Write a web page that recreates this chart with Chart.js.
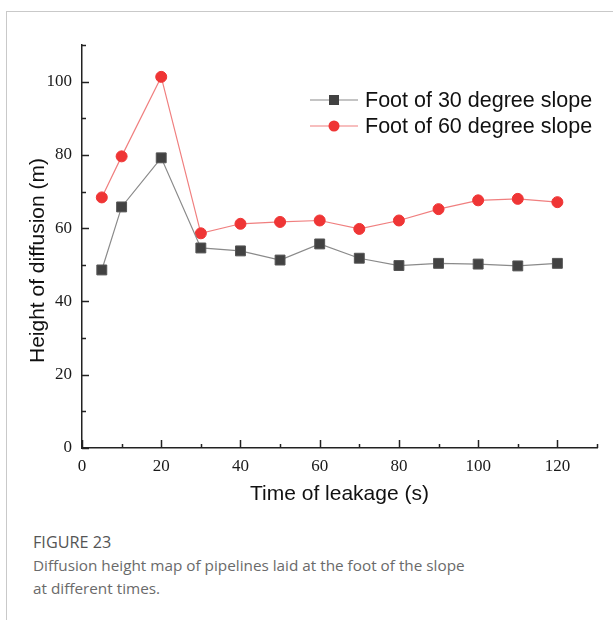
<!DOCTYPE html>
<html>
<head>
<meta charset="utf-8">
<script src="https://cdn.jsdelivr.net/npm/chart.js@4/dist/chart.umd.min.js"></script>
<style>
  html, body { margin: 0; padding: 0; background: #fff; }
  body { width: 613px; height: 620px; position: relative; overflow: hidden; }
  #frame { position: absolute; left: 6px; top: 11px; width: 620px; height: 620px;
           border-top: 1px solid #c9c9c9; border-left: 1px solid #c9c9c9; }
  #chart { position: absolute; left: 0; top: 0; }
  #caption { position: absolute; left: 33px; top: 531px; font-family: "Open Sans", sans-serif;
             font-size: 15.3px; line-height: 23px; color: #6a6a6a; }
  #caption .fig { color: #555; font-size: 16.2px; }
</style>
</head>
<body>
<div id="frame"></div>
<canvas id="chart" width="613" height="515"></canvas>
<div id="caption"><div class="fig">FIGURE 23</div>Diffusion height map of pipelines laid at the foot of the slope<br>at different times.</div>
<script>
const times   = [5, 10, 20, 30, 40, 50, 60, 70, 80, 90, 100, 110, 120];
const slope30 = [48.6, 65.8, 79.2, 54.6, 53.8, 51.3, 55.7, 51.8, 49.8, 50.4, 50.2, 49.7, 50.4];
const slope60 = [68.4, 79.6, 101.3, 58.6, 61.2, 61.7, 62.1, 59.8, 62.1, 65.2, 67.6, 68.0, 67.1];
const seriesLabels = ['Foot of 30 degree slope', 'Foot of 60 degree slope'];
const xMajorTicks = [0, 20, 40, 60, 80, 100, 120];
const xMinorTicks = [10, 30, 50, 70, 90, 110, 130];
const yMajorTicks = [0, 20, 40, 60, 80, 100];
const yMinorTicks = [10, 30, 50, 70, 90, 110];
const xTitle = 'Time of leakage (s)';
const yTitle = 'Height of diffusion (m)';

const pts = (xs, ys) => xs.map((x, i) => ({ x: x, y: ys[i] }));

const AXIS_COLOR = '#222';

const decorPlugin = {
  id: 'decor',
  afterDraw(chart) {
    const ctx = chart.ctx;
    const xs = chart.scales.x, ys = chart.scales.y;
    const ca = chart.chartArea;
    ctx.save();
    ctx.strokeStyle = AXIS_COLOR;
    ctx.lineWidth = 1.5;
    const drawX = (vals, len) => vals.forEach(v => {
      const px = Math.round(xs.getPixelForValue(v)) + 0.5;
      ctx.beginPath(); ctx.moveTo(px, ca.bottom); ctx.lineTo(px, ca.bottom - len); ctx.stroke();
    });
    const drawY = (vals, len) => vals.forEach(v => {
      const py = Math.round(ys.getPixelForValue(v)) + 0.5;
      ctx.beginPath(); ctx.moveTo(ca.left, py); ctx.lineTo(ca.left + len, py); ctx.stroke();
    });
    drawX(xMajorTicks, 8); drawX(xMinorTicks, 4);
    drawY(yMajorTicks, 7); drawY(yMinorTicks, 4);

    ctx.fillStyle = '#111';
    ctx.font = '21px "Liberation Sans", Arial, sans-serif';
    ctx.textAlign = 'center';
    ctx.textBaseline = 'middle';
    ctx.translate(38, ca.top + (ca.bottom - ca.top) / 2 + 14);
    ctx.rotate(-Math.PI / 2);
    ctx.fillText(yTitle, 0, 0);
    ctx.restore();

    ctx.save();
    const lx0 = 310, lx1 = 358, tx = 365, rows = [100, 126];
    chart.data.datasets.forEach((ds, i) => {
      const y = rows[i];
      ctx.strokeStyle = ds.borderColor; ctx.lineWidth = ds.borderWidth;
      ctx.beginPath(); ctx.moveTo(lx0, y); ctx.lineTo(lx1, y); ctx.stroke();
      ctx.fillStyle = ds.pointBackgroundColor;
      const mx = (lx0 + lx1) / 2;
      if (ds.pointStyle === 'rect') {
        ctx.fillRect(mx - 5, y - 5, 10, 10);
      } else {
        ctx.beginPath(); ctx.arc(mx, y, 5.5, 0, Math.PI * 2); ctx.fill();
      }
      ctx.fillStyle = '#111';
      ctx.font = '21.5px "Liberation Sans", Arial, sans-serif';
      ctx.textAlign = 'left'; ctx.textBaseline = 'middle';
      ctx.fillText(ds.label, tx, y + 1);
    });
    ctx.restore();
  }
};

new Chart(document.getElementById('chart'), {
  type: 'line',
  data: {
    datasets: [
      {
        label: seriesLabels[0],
        data: pts(times, slope30),
        borderColor: '#8a8a8a',
        borderWidth: 1.2,
        pointStyle: 'rect',
        pointRadius: 7,
        pointBackgroundColor: '#424242',
        pointBorderColor: '#555',
        pointBorderWidth: 1,
        tension: 0
      },
      {
        label: seriesLabels[1],
        data: pts(times, slope60),
        borderColor: '#f07f7f',
        borderWidth: 1.2,
        pointStyle: 'circle',
        pointRadius: 5.5,
        pointBackgroundColor: '#ef3535',
        pointBorderColor: '#ef3535',
        pointBorderWidth: 1,
        tension: 0
      }
    ]
  },
  options: {
    responsive: false,
    animation: false,
    events: [],
    layout: { padding: { left: 0, top: 45, right: 16, bottom: 0 } },
    plugins: { legend: { display: false }, tooltip: { enabled: false } },
    scales: {
      x: {
        type: 'linear',
        min: 0, max: 130,
        afterBuildTicks: s => { s.ticks = xMajorTicks.map(v => ({ value: v })); },
        afterFit: s => { s.height = 67; },
        grid: { display: true, drawOnChartArea: false, drawTicks: false },
        border: { display: true, color: AXIS_COLOR, width: 1.5 },
        ticks: { color: '#1a1a1a', padding: 8, maxRotation: 0, autoSkip: false,
                 font: { family: 'Liberation Serif', size: 17 } },
        title: { display: true, text: xTitle, color: '#111',
                 font: { family: 'Liberation Sans', size: 21 }, padding: { top: 0, bottom: 8 } }
      },
      y: {
        type: 'linear',
        min: 0, max: 110,
        afterBuildTicks: s => { s.ticks = yMajorTicks.map(v => ({ value: v })); },
        afterFit: s => { s.width = 82; },
        grid: { display: true, drawOnChartArea: false, drawTicks: false },
        border: { display: true, color: AXIS_COLOR, width: 1.5 },
        ticks: { color: '#1a1a1a', padding: 10, autoSkip: false,
                 font: { family: 'Liberation Serif', size: 17 } },
        title: { display: false }
      }
    }
  },
  plugins: [decorPlugin]
});
</script>
</body>
</html>
